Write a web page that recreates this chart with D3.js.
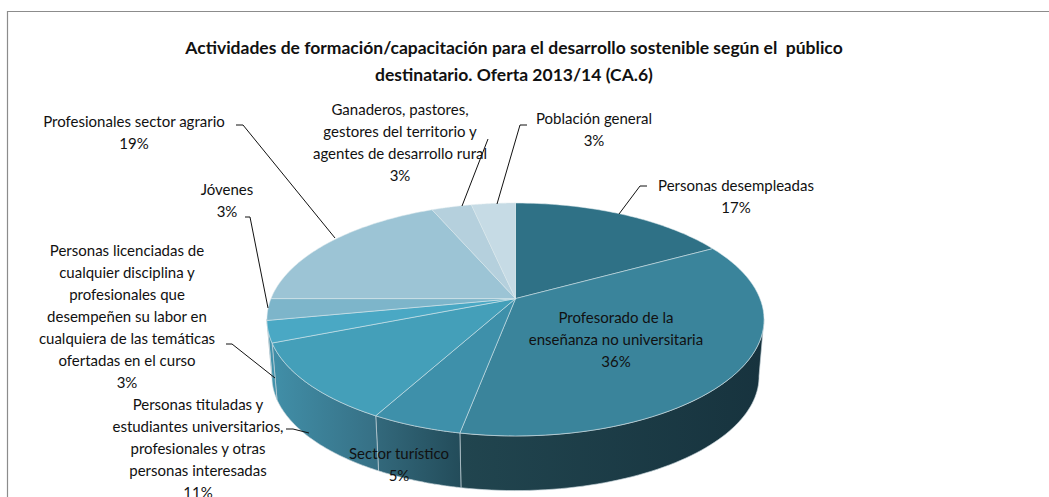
<!DOCTYPE html>
<html><head><meta charset="utf-8">
<script src="https://cdn.jsdelivr.net/npm/d3@7"></script>
<style>html,body{margin:0;padding:0;background:#fff}svg{display:block}text{font-family:Lato,"Open Sans",sans-serif;fill:#111}</style>
</head><body><svg id="c" width="1049" height="497"></svg>
<script>
const titleLines = ["Actividades de formación/capacitación para el desarrollo sostenible según el  público","destinatario. Oferta 2013/14 (CA.6)"];
const categories = ["Personas desempleadas","Profesorado de la enseñanza no universitaria","Sector turístico","Personas tituladas y estudiantes universitarios, profesionales y otras personas interesadas","Personas licenciadas de cualquier disciplina y profesionales que desempeñen su labor en cualquiera de las temáticas ofertadas en el curso","Jóvenes","Profesionales sector agrario","Ganaderos, pastores, gestores del territorio y agentes de desarrollo rural","Población general"];
const values = [17,36,5,11,3,3,18.5,3.1,3.4];
const topColors = ["#2f7186","#3a849b","#3e90aa","#449fb9","#4aa8c4","#7db5ca","#9cc4d5","#b5d0dd","#c6dbe5"];
const sideColors = [["#17333e","#17333e"],["#17333e","#21454f"],["#234c5a","#33697c"],["#366f84","#418fa8"],["#418fa8","#4497b0"],["#4497b0","#4497b0"],["#4497b0","#4497b0"],["#4497b0","#4497b0"],["#4497b0","#4497b0"]];
const labelLines = [["Personas desempleadas"],["Profesorado de la","enseñanza no universitaria"],["Sector turístico"],["Personas tituladas y","estudiantes universitarios,","profesionales y otras","personas interesadas"],["Personas licenciadas de","cualquier disciplina y","profesionales que","desempeñen su labor en","cualquiera de las temáticas","ofertadas en el curso"],["Jóvenes"],["Profesionales sector agrario"],["Ganaderos, pastores,","gestores del territorio y","agentes de desarrollo rural"],["Población general"]];
const labelAnchors = [[736,186],[616,318],[399,454],[198,405],[127,251],[227,190],[134,122],[400,110],[594,119]];
const leaders = [[[647,186],[640,186],[619,214]],null,null,[[286,429],[293,429],[309,433]],[[226,344],[232,344],[275,378]],[[245,217],[250,217],[268,308]],[[236,125],[243,125],[335,238]],[[488,139],[462,206]],[[527,125],[520,125],[497,204]]];

const svg = d3.select("#c");
const TAU = 2*Math.PI;
const cx = 515.5, cy = 298.6, A = 244.5, B = 112.7, k = 0.1794;
const bottomCy = 356, bottomScale = 0.98, lineGap = 22;
const proj = (a, bottom) => {
  const u = Math.sin(a), v = -Math.cos(a), d = 1 - k*v, s = bottom ? bottomScale : 1;
  return [cx + s*A*u/d, (bottom ? bottomCy : cy) + s*B*v/d];
};
const arcs = d3.pie().sort(null).value(d=>d).startAngle(0).endAngle(TAU)(values);
const sample = (a0,a1,bottom) => d3.range(0,61).map(i=>proj(a0+(a1-a0)*i/60,bottom));
const line = d3.line();
const defs = svg.append("defs");

// frame
svg.append("path").attr("d",line([[7.5,497],[7.5,11.5],[1049,11.5]])).attr("fill","none").attr("stroke","#8c8c8c").attr("stroke-width",1.2);

// side wall
const visFrom = 100*Math.PI/180, visTo = 260*Math.PI/180;
arcs.forEach((d,i)=>{
  const a0 = Math.max(d.startAngle,visFrom), a1 = Math.min(d.endAngle,visTo);
  if (a1 <= a0) return;
  const t = sample(a0,a1,false), b = sample(a0,a1,true).reverse();
  const id = "side"+i;
  const xs = t.concat(b).map(p=>p[0]);
  const g = defs.append("linearGradient").attr("id",id).attr("gradientUnits","userSpaceOnUse")
    .attr("x1",d3.max(xs)).attr("x2",d3.min(xs)).attr("y1",0).attr("y2",0);
  g.append("stop").attr("offset",0).attr("stop-color",sideColors[i][0]);
  g.append("stop").attr("offset",1).attr("stop-color",sideColors[i][1]);
  svg.append("path").attr("d",line(t.concat(b))+"Z").attr("fill",`url(#${id})`)
    .attr("stroke","#c4d3d8").attr("stroke-opacity",0.65).attr("stroke-width",1);
});

// top surface
arcs.forEach((d,i)=>{
  const pts = [[cx,cy]].concat(sample(d.startAngle,d.endAngle,false));
  svg.append("path").attr("d",line(pts)+"Z").attr("fill",topColors[i])
    .attr("stroke","#dbe8ed").attr("stroke-opacity",0.6).attr("stroke-width",0.9).attr("stroke-linejoin","round");
});

// labels
arcs.forEach((d,i)=>{
  const lines = labelLines[i].concat([Math.round(d.value)+"%"]);
  const [x,y] = labelAnchors[i];
  const t = svg.append("text").attr("text-anchor","middle").attr("font-size",15);
  lines.forEach((s,j)=>t.append("tspan").attr("x",x).attr("y",y+j*lineGap+5).text(s));
});
// leaders
leaders.forEach(l=>{ if(l) svg.append("path").attr("d",line(l)).attr("fill","none").attr("stroke","#111").attr("stroke-width",1); });

// title
titleLines.forEach((s,j)=>svg.append("text").attr("x",514).attr("y",54+j*27).attr("text-anchor","middle")
  .attr("font-size",17.5).attr("font-weight",700).attr("xml:space","preserve").style("white-space","pre").text(s));
</script></body></html>
